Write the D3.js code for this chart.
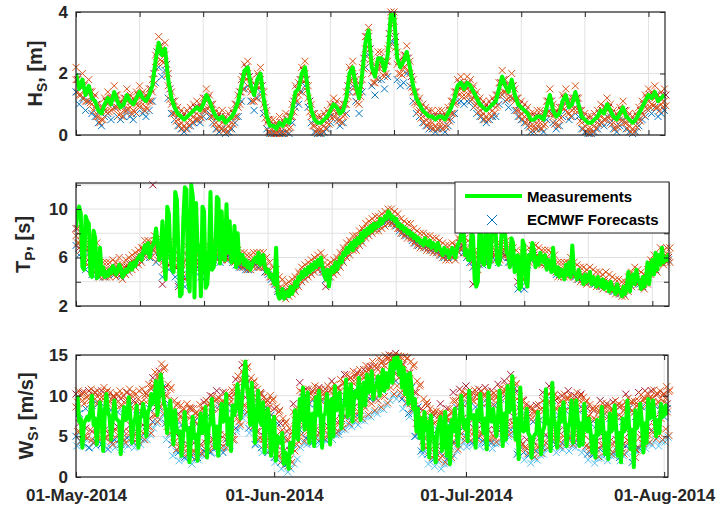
<!DOCTYPE html>
<html><head><meta charset="utf-8">
<script src="https://cdn.jsdelivr.net/npm/d3@7"></script>
<style>body{margin:0;background:#fff}svg{display:block}</style>
</head><body>
<svg id="c" width="724" height="509"></svg>
<script>
// ---------- DATA (from 01-May-2014) ----------
// Hs measured, every 12 h
const hsMeas = [
2.0,1.5,1.8,1.3,1.6,1.2,1.1,0.8,0.7,1.0,
1.2,1.0,1.4,1.1,0.9,1.0,1.3,1.1,1.0,1.2,
1.4,1.2,1.1,1.3,1.6,2.4,3.0,2.6,2.8,1.8,
1.2,0.9,0.7,0.6,0.5,0.6,0.7,0.8,0.9,0.8,
1.0,1.3,1.1,0.8,0.6,0.5,0.6,0.4,0.5,0.6,
0.8,1.1,1.6,2.1,2.2,1.6,1.3,1.8,2.0,1.2,
0.6,0.3,0.3,0.2,0.4,0.3,0.5,0.4,0.8,1.4,
1.5,2.0,2.2,1.4,0.8,0.5,0.4,0.4,0.5,0.6,
0.8,1.0,0.9,0.7,0.8,1.2,2.0,2.2,1.6,1.2,
2.0,3.0,3.4,2.2,1.9,2.5,2.5,2.1,2.6,3.9,
3.9,2.5,2.2,2.4,2.7,2.2,1.6,1.2,1.0,0.8,
0.7,0.6,0.6,0.5,0.6,0.6,0.5,0.7,0.9,1.2,
1.6,1.7,1.5,1.7,1.6,1.4,1.2,1.0,0.9,0.8,
0.9,1.0,1.1,1.5,1.9,1.6,1.4,1.8,1.3,1.0,
0.9,0.8,0.7,0.5,0.5,0.6,0.6,0.5,0.9,1.3,
0.8,0.6,0.7,1.1,1.3,0.9,1.0,1.4,1.0,0.6,
0.5,0.4,0.4,0.5,0.6,0.8,0.7,1.0,0.8,0.6,
0.5,0.7,0.9,0.6,0.5,0.4,0.5,0.7,0.9,1.1,
1.3,1.2,1.4,1.1,1.2,1.3];
// ECMWF Hs forecasts (A,B,C at 00/12 h; D,E at 06/18 h)
const hsFcA = [
1.4,1.0,1.2,0.8,1.1,0.7,0.6,0.4,0.3,0.6,
0.7,0.5,0.9,0.6,0.5,0.6,0.8,0.6,0.5,0.7,
0.9,0.7,0.6,0.8,1.1,1.7,2.2,1.9,2.1,1.2,
0.7,0.5,0.3,0.2,0.1,0.2,0.3,0.4,0.5,0.4,
0.6,0.8,0.6,0.4,0.2,0.1,0.2,0.05,0.1,0.2,
0.4,0.6,1.1,1.5,1.6,1.1,0.8,1.2,1.4,0.7,
0.2,0.05,0.05,0.05,0.05,0.05,0.1,0.05,0.4,0.9,
1.0,1.4,1.6,0.9,0.4,0.1,0.05,0.05,0.1,0.2,
0.4,0.6,0.5,0.3,0.4,0.7,1.4,1.6,1.1,0.7,
1.4,2.2,2.6,1.6,1.3,1.8,1.8,1.5,1.9,3.0,
3.0,1.8,1.6,1.7,2.0,1.6,1.1,0.7,0.6,0.4,
0.3,0.2,0.2,0.1,0.2,0.2,0.1,0.3,0.5,0.7,
1.1,1.1,1.0,1.1,1.1,0.9,0.7,0.6,0.5,0.4,
0.5,0.6,0.6,1.0,1.3,1.1,0.9,1.2,0.8,0.6,
0.5,0.4,0.3,0.1,0.1,0.2,0.2,0.1,0.5,0.8,
0.4,0.2,0.3,0.6,0.8,0.5,0.6,0.9,0.6,0.2,
0.1,0.05,0.05,0.1,0.2,0.4,0.3,0.6,0.4,0.2,
0.1,0.3,0.5,0.2,0.1,0.05,0.1,0.3,0.5,0.6,
0.8,0.7,0.9,0.6,0.7,0.8];
const hsFcB = [
1.8,1.3,1.6,1.1,1.4,1.0,0.9,0.6,0.5,0.8,
1.0,0.8,1.2,0.9,0.7,0.8,1.1,0.9,0.8,1.0,
1.2,1.0,0.9,1.1,1.4,2.2,2.8,2.4,2.6,1.6,
1.0,0.7,0.5,0.4,0.3,0.4,0.5,0.6,0.7,0.6,
0.8,1.1,0.9,0.6,0.4,0.3,0.4,0.2,0.3,0.4,
0.6,0.9,1.4,1.9,2.0,1.4,1.1,1.6,1.8,1.0,
0.4,0.1,0.1,0.05,0.2,0.1,0.3,0.2,0.6,1.2,
1.3,1.8,2.0,1.2,0.6,0.3,0.2,0.2,0.3,0.4,
0.6,0.8,0.7,0.5,0.6,1.0,1.8,2.0,1.4,1.0,
1.8,2.8,3.2,2.0,1.7,2.3,2.3,1.9,2.4,3.7,
3.7,2.3,2.0,2.2,2.5,2.0,1.4,1.0,0.8,0.6,
0.5,0.4,0.4,0.3,0.4,0.4,0.3,0.5,0.7,1.0,
1.4,1.5,1.3,1.5,1.4,1.2,1.0,0.8,0.7,0.6,
0.7,0.8,0.9,1.3,1.7,1.4,1.2,1.6,1.1,0.8,
0.7,0.6,0.5,0.3,0.3,0.4,0.4,0.3,0.7,1.1,
0.6,0.4,0.5,0.9,1.1,0.7,0.8,1.2,0.8,0.4,
0.3,0.2,0.2,0.3,0.4,0.6,0.5,0.8,0.6,0.4,
0.3,0.5,0.7,0.4,0.3,0.2,0.3,0.5,0.7,0.9,
1.1,1.0,1.2,0.9,1.0,1.1];
const hsFcC = [
2.2,1.7,2.0,1.5,1.8,1.4,1.3,1.0,0.9,1.2,
1.4,1.2,1.6,1.3,1.1,1.2,1.5,1.3,1.2,1.4,
1.6,1.4,1.3,1.5,1.8,2.6,3.2,2.8,3.0,2.0,
1.4,1.1,0.9,0.8,0.7,0.8,0.9,1.0,1.1,1.0,
1.2,1.5,1.3,1.0,0.8,0.7,0.8,0.6,0.7,0.8,
1.0,1.3,1.8,2.3,2.4,1.8,1.5,2.0,2.2,1.4,
0.8,0.5,0.5,0.4,0.6,0.5,0.7,0.6,1.0,1.6,
1.7,2.2,2.4,1.6,1.0,0.7,0.6,0.6,0.7,0.8,
1.0,1.2,1.1,0.9,1.0,1.4,2.2,2.4,1.8,1.4,
2.2,3.2,3.5,2.4,2.1,2.7,2.7,2.3,2.8,4.0,
4.0,2.7,2.4,2.6,2.9,2.4,1.8,1.4,1.2,1.0,
0.9,0.8,0.8,0.7,0.8,0.8,0.7,0.9,1.1,1.4,
1.8,1.9,1.7,1.9,1.8,1.6,1.4,1.2,1.1,1.0,
1.1,1.2,1.3,1.7,2.1,1.8,1.6,2.0,1.5,1.2,
1.1,1.0,0.9,0.7,0.7,0.8,0.8,0.7,1.1,1.5,
1.0,0.8,0.9,1.3,1.5,1.1,1.2,1.6,1.2,0.8,
0.7,0.6,0.6,0.7,0.8,1.0,0.9,1.2,1.0,0.8,
0.7,0.9,1.1,0.8,0.7,0.6,0.7,0.9,1.1,1.3,
1.5,1.4,1.6,1.3,1.4,1.5];
const hsFcD = [
1.4,1.3,1.2,1.1,1.05,0.8,0.6,0.4,0.5,0.75,
0.75,0.85,0.9,0.65,0.6,0.8,0.85,0.7,0.75,0.95,
0.95,0.8,0.85,1.1,1.65,2.35,2.45,2.35,1.95,1.15,
0.7,0.45,0.3,0.2,0.2,0.3,0.4,0.5,0.5,0.55,
0.8,0.85,0.6,0.35,0.2,0.2,0.15,0.1,0.2,0.35,
0.6,1.0,1.5,1.8,1.55,1.1,1.2,1.55,1.25,0.55,
0.1,0.05,0.05,0.05,0.05,0.05,0.1,0.25,0.75,1.1,
1.4,1.75,1.45,0.75,0.3,0.1,0.05,0.1,0.2,0.35,
0.55,0.6,0.45,0.4,0.65,1.25,1.75,1.55,1.05,1.25,
2.15,2.85,2.45,1.7,1.85,2.15,1.95,2.0,2.9,3.55,
2.85,2.0,1.95,2.2,2.1,1.55,1.05,0.75,0.55,0.4,
0.3,0.25,0.2,0.2,0.25,0.2,0.25,0.45,0.7,1.05,
1.3,1.25,1.25,1.3,1.15,0.95,0.75,0.6,0.5,0.5,
0.6,0.7,0.95,1.35,1.4,1.15,1.25,1.2,0.8,0.6,
0.5,0.4,0.25,0.15,0.2,0.25,0.2,0.35,0.75,0.7,
0.35,0.3,0.55,0.85,0.75,0.6,0.85,0.85,0.45,0.2,
0.1,0.05,0.1,0.2,0.35,0.4,0.5,0.55,0.35,0.2,
0.25,0.45,0.4,0.2,0.1,0.1,0.25,0.45,0.65,0.85,
0.9,0.95,0.9,0.8,0.9,0.95];
const hsFcE = [
1.8,1.7,1.6,1.5,1.4,1.2,1.0,0.8,0.9,1.1,
1.1,1.2,1.3,1.0,1.0,1.2,1.2,1.1,1.1,1.3,
1.3,1.2,1.2,1.5,2.0,2.7,2.9,2.7,2.3,1.5,
1.1,0.8,0.7,0.6,0.6,0.7,0.8,0.9,0.9,0.9,
1.2,1.2,1.0,0.7,0.6,0.6,0.5,0.5,0.6,0.7,
1.0,1.4,1.9,2.2,1.9,1.5,1.6,1.9,1.6,0.9,
0.5,0.3,0.3,0.3,0.4,0.4,0.5,0.6,1.1,1.5,
1.8,2.1,1.8,1.1,0.7,0.5,0.4,0.5,0.6,0.7,
0.9,1.0,0.8,0.8,1.0,1.6,2.1,1.9,1.4,1.6,
2.5,3.2,2.8,2.1,2.2,2.5,2.3,2.4,3.3,3.9,
3.2,2.4,2.3,2.6,2.5,1.9,1.4,1.1,0.9,0.8,
0.7,0.6,0.6,0.6,0.6,0.6,0.6,0.8,1.1,1.4,
1.7,1.6,1.6,1.7,1.5,1.3,1.1,1.0,0.9,0.9,
1.0,1.1,1.3,1.7,1.8,1.5,1.6,1.6,1.2,1.0,
0.9,0.8,0.6,0.5,0.6,0.6,0.6,0.7,1.1,1.1,
0.7,0.7,0.9,1.2,1.1,1.0,1.2,1.2,0.8,0.6,
0.5,0.4,0.5,0.6,0.7,0.8,0.9,0.9,0.7,0.6,
0.6,0.8,0.8,0.6,0.5,0.5,0.6,0.8,1.0,1.2,
1.3,1.3,1.3,1.2,1.3,1.3];
// Tp measured, every 6 h
const tpMeas = [
8.5,9.8,10.2,9.6,5.2,5.0,9.4,9.0,8.8,4.6,4.4,8.2,7.6,4.3,4.5,6.8,4.6,5.2,4.4,4.8,
4.5,5.0,4.7,5.3,5.0,4.6,4.9,5.4,5.1,4.4,4.6,5.0,4.8,5.2,5.5,5.0,5.6,5.3,5.8,6.0,
6.2,5.8,6.5,7.0,6.4,7.2,6.0,6.8,7.0,7.4,8.4,7.0,5.8,6.5,9.0,5.6,4.2,10.2,9.6,6.0,
5.0,4.8,11.4,10.8,6.4,2.8,3.0,9.0,11.8,11.6,4.2,3.2,12.0,11.0,2.7,10.5,6.5,7.0,2.8,10.2,
9.8,3.5,3.8,5.8,11.4,5.0,5.2,6.0,11.0,10.8,5.5,9.8,6.0,5.8,10.4,6.4,9.0,5.6,5.8,8.6,
5.2,8.0,5.5,6.2,6.2,5.4,5.8,5.2,5.6,5.0,5.4,5.8,6.0,5.6,6.4,5.4,5.8,6.2,5.2,4.8,
5.0,4.4,4.6,4.2,3.8,6.8,3.0,2.6,2.8,3.4,2.6,3.0,3.2,2.8,3.6,3.0,3.4,4.0,3.6,4.4,
4.2,4.8,4.4,5.0,4.6,5.2,4.8,5.4,5.0,5.6,5.2,5.8,5.4,6.0,5.2,4.6,4.2,5.0,3.6,4.8,
5.2,4.8,5.6,5.0,5.4,6.0,5.6,6.4,6.2,6.8,6.4,7.0,7.2,6.6,7.4,7.0,7.6,7.2,8.0,7.4,
8.2,7.8,8.4,8.0,8.6,8.2,8.8,8.4,8.8,8.6,9.2,8.8,9.0,9.4,9.2,9.8,9.6,9.2,9.4,9.0,
9.2,8.6,8.8,8.4,8.6,8.2,8.4,8.0,8.2,7.8,8.0,7.6,7.8,7.4,7.6,7.2,7.4,7.0,7.6,7.2,
7.0,7.4,6.8,7.2,7.0,6.6,7.2,6.8,6.6,6.2,6.8,6.4,6.6,6.0,6.4,6.8,6.4,6.0,6.8,7.2,
7.4,8.6,8.4,6.2,6.6,5.8,5.8,8.0,7.8,4.2,3.6,4.0,8.2,8.0,5.6,5.4,8.8,8.6,5.2,5.8,
8.4,8.8,8.6,5.6,5.4,6.0,8.6,7.8,8.0,6.4,6.2,5.2,7.6,7.2,4.8,5.6,6.2,3.4,3.6,7.4,
7.0,4.0,3.6,6.2,5.8,7.2,6.6,5.2,6.0,5.4,6.4,5.8,5.6,6.2,5.0,5.8,5.4,4.8,6.8,5.0,
4.6,5.2,4.4,5.0,4.8,4.2,5.4,4.6,5.6,4.4,7.0,4.8,4.6,4.2,5.0,4.4,4.4,3.8,4.6,4.0,
4.2,4.8,3.8,4.4,4.0,3.6,4.4,3.8,3.6,4.2,3.4,4.0,3.8,3.2,4.0,3.4,3.4,3.0,3.8,3.2,
3.2,2.8,3.6,3.0,3.6,4.8,3.2,4.2,4.6,3.8,5.0,4.2,4.0,3.4,4.4,3.6,4.2,5.6,3.8,5.2,
5.8,4.6,6.4,5.0,6.2,5.4,6.8,5.6,6.0,5.8,6.2,5.6];
// ECMWF Tp forecasts
const tpFcA = [
7.0,6.2,6.8,5.0,6.4,4.6,5.8,4.4,4.6,4.4,4.6,4.8,4.6,5.0,4.4,4.8,5.0,5.2,5.4,5.6,
5.8,6.2,6.4,6.0,6.6,5.6,6.0,4.4,6.4,5.0,5.6,4.4,3.8,4.2,3.6,4.6,5.6,4.8,5.2,4.4,
4.2,5.2,5.4,5.8,6.0,5.6,6.2,5.8,6.0,5.6,5.4,5.2,5.2,5.0,5.0,5.4,5.4,5.2,5.4,4.8,
4.6,4.2,3.8,3.2,3.0,2.8,3.0,3.2,3.4,3.8,4.2,4.4,4.6,4.8,5.0,5.2,5.4,4.8,4.2,4.4,
4.8,5.0,5.4,5.8,6.2,6.4,6.8,6.8,7.2,7.4,7.8,8.0,8.2,8.4,8.4,8.6,8.8,9.0,9.0,8.8,
8.6,8.2,8.0,7.8,7.8,7.4,7.2,7.0,7.0,6.8,6.8,6.6,6.6,6.4,6.2,6.0,6.0,6.2,6.0,6.6,
6.8,6.4,6.0,5.6,5.2,5.0,5.4,5.4,5.6,5.8,6.0,5.8,5.6,6.0,6.2,5.6,5.4,5.6,3.4,3.6,
3.4,5.4,5.8,6.0,5.8,5.8,5.6,5.6,5.2,5.0,4.6,4.6,4.6,4.6,4.8,4.6,4.4,4.2,4.2,4.0,
4.2,4.0,3.8,3.8,3.6,3.8,3.6,3.4,3.2,3.2,3.0,3.0,3.4,3.8,4.2,4.0,3.8,3.6,4.0,4.8,
5.2,5.0,5.8,5.6,5.8,5.8];
const tpFcB = [
7.8,7.2,7.6,6.0,7.2,5.4,6.6,5.0,5.0,5.0,5.0,5.2,5.0,5.4,4.8,5.2,5.4,5.6,5.8,6.0,
6.2,6.8,6.8,6.6,7.2,6.4,7.0,5.6,7.4,6.0,6.8,5.8,5.6,5.0,6.4,5.6,6.6,6.0,6.2,5.8,
5.6,6.4,6.8,6.6,7.0,6.4,6.8,6.4,6.6,6.2,6.0,5.8,5.8,5.6,5.6,5.8,5.8,5.8,5.8,5.4,
5.0,4.6,4.4,3.8,3.6,3.2,3.4,3.6,3.8,4.2,4.6,4.8,5.0,5.2,5.4,5.6,5.8,5.4,4.8,5.0,
5.2,5.4,5.8,6.2,6.6,6.8,7.2,7.2,7.6,7.8,8.2,8.4,8.6,8.8,8.8,9.0,9.2,9.4,9.4,9.2,
9.0,8.6,8.4,8.2,8.2,7.8,7.6,7.4,7.4,7.2,7.2,7.0,7.0,6.8,6.6,6.4,6.4,6.6,6.4,7.0,
7.4,7.0,6.8,6.2,6.0,5.6,6.2,6.2,6.6,6.4,6.8,6.6,6.4,6.8,6.8,6.2,6.2,6.0,5.4,5.8,
5.0,6.2,6.4,6.4,6.2,6.0,6.0,6.0,5.8,5.6,5.0,5.0,5.0,5.0,5.4,5.0,4.8,4.6,4.6,4.4,
4.6,4.4,4.2,4.2,4.0,4.2,4.0,3.8,3.6,3.6,3.4,3.4,3.8,4.2,4.6,4.4,4.2,4.0,4.4,5.2,
5.6,5.4,6.2,6.0,6.2,6.2];
const tpFcC = [
8.4,6.8,7.2,5.6,6.8,5.0,6.2,4.8,4.8,4.8,4.8,5.0,4.8,5.2,4.6,5.0,5.2,5.4,5.6,5.8,
6.0,6.6,7.0,6.8,12.0,7.0,6.4,3.8,7.0,5.4,6.2,5.2,3.6,5.4,4.2,6.0,6.2,5.4,5.8,5.2,
4.8,6.0,6.2,6.2,6.6,6.0,6.4,6.0,6.4,6.0,5.8,5.4,5.6,5.4,5.4,5.6,5.6,5.6,5.6,5.2,
4.8,4.4,4.0,3.4,3.2,3.0,3.2,3.4,3.6,4.0,4.4,4.6,4.8,5.0,5.2,5.4,5.6,5.0,3.6,4.8,
5.0,5.2,5.6,6.0,6.4,6.6,7.0,7.0,7.4,7.6,8.0,8.2,8.4,8.6,8.6,8.8,9.0,9.2,9.2,9.0,
8.8,8.4,8.2,8.0,8.0,7.6,7.4,7.2,7.2,7.0,7.0,6.8,6.8,6.6,6.4,6.2,6.2,6.4,6.2,6.8,
7.2,6.8,6.4,6.0,3.8,5.4,5.8,6.0,6.2,6.0,6.4,6.2,6.0,6.4,6.6,6.0,5.8,5.8,4.0,6.0,
4.2,5.8,6.0,6.2,6.0,5.8,5.8,5.8,5.4,5.2,4.8,4.8,4.8,4.8,5.0,4.8,4.6,4.4,4.4,4.2,
4.4,4.2,4.0,4.0,3.8,4.0,3.8,3.6,3.4,3.4,3.2,3.2,3.6,4.0,4.4,4.2,4.0,3.8,4.2,5.0,
5.4,5.2,6.0,5.8,6.0,6.0];
const tpFcD = [
7.2,6.6,7.0,5.4,6.6,4.8,6.0,4.4,4.4,4.4,4.4,4.6,4.4,4.8,4.2,4.6,4.8,5.0,5.2,5.4,
5.6,6.2,6.2,6.0,6.6,5.8,6.4,5.0,6.8,5.4,6.2,5.2,5.0,4.4,5.8,5.0,6.0,5.4,5.6,5.2,
5.0,5.8,6.2,6.0,6.4,5.8,6.2,5.8,6.0,5.6,5.4,5.2,5.2,5.0,5.0,5.2,5.2,5.2,5.2,4.8,
4.4,4.0,3.8,3.2,3.0,2.6,2.8,3.0,3.2,3.6,4.0,4.2,4.4,4.6,4.8,5.0,5.2,4.8,4.2,4.4,
4.6,4.8,5.2,5.6,6.0,6.2,6.6,6.6,7.0,7.2,7.6,7.8,8.0,8.2,8.2,8.4,8.6,8.8,8.8,8.6,
8.4,8.0,7.8,7.6,7.6,7.2,7.0,6.8,6.8,6.6,6.6,6.4,6.4,6.2,6.0,5.8,5.8,6.0,5.8,6.4,
6.8,6.4,6.2,5.6,5.4,5.0,5.6,5.6,6.0,5.8,6.2,6.0,5.8,6.2,6.2,5.6,5.6,5.4,4.8,5.2,
4.4,5.6,5.8,5.8,5.6,5.4,5.4,5.4,5.2,5.0,4.4,4.4,4.4,4.4,4.8,4.4,4.2,4.0,4.0,3.8,
4.0,3.8,3.6,3.6,3.4,3.6,3.4,3.2,3.0,3.0,2.8,2.8,3.2,3.6,4.0,3.8,3.6,3.4,3.8,4.6,
5.0,4.8,5.6,5.4,5.6,5.6];
const tpFcE = [
8.4,7.8,8.2,6.6,7.8,6.0,7.2,5.6,5.6,5.6,5.6,5.8,5.6,6.0,5.4,5.8,6.0,6.2,6.4,6.6,
6.8,7.4,7.4,7.2,7.8,7.0,7.6,6.2,8.0,6.6,7.4,6.4,6.2,5.6,7.0,6.2,7.2,6.6,6.8,6.4,
6.2,7.0,7.4,7.2,7.6,7.0,7.4,7.0,7.2,6.8,6.6,6.4,6.4,6.2,6.2,6.4,6.4,6.4,6.4,6.0,
5.6,5.2,5.0,4.4,4.2,3.8,4.0,4.2,4.4,4.8,5.2,5.4,5.6,5.8,6.0,6.2,6.4,6.0,5.4,5.6,
5.8,6.0,6.4,6.8,7.2,7.4,7.8,7.8,8.2,8.4,8.8,9.0,9.2,9.4,9.4,9.6,9.8,10.0,10.0,9.8,
9.6,9.2,9.0,8.8,8.8,8.4,8.2,8.0,8.0,7.8,7.8,7.6,7.6,7.4,7.2,7.0,7.0,7.2,7.0,7.6,
8.0,7.6,7.4,6.8,6.6,6.2,6.8,6.8,7.2,7.0,7.4,7.2,7.0,7.4,7.4,6.8,6.8,6.6,6.0,6.4,
5.6,6.8,7.0,7.0,6.8,6.6,6.6,6.6,6.4,6.2,5.6,5.6,5.6,5.6,6.0,5.6,5.4,5.2,5.2,5.0,
5.2,5.0,4.8,4.8,4.6,4.8,4.6,4.4,4.2,4.2,4.0,4.0,4.4,4.8,5.2,5.0,4.8,4.6,5.0,5.8,
6.2,6.0,6.8,6.6,6.8,6.8];
// Ws measured, every 6 h
const wsMeas = [
7.5,9.8,6.8,7.2,3.6,6.6,7.0,7.4,7.0,8.2,10.0,6.4,7.2,4.0,6.6,9.2,7.6,3.2,7.8,10.2,
8.0,7.4,4.6,7.0,9.4,7.2,7.0,6.8,2.8,6.4,8.6,7.0,7.2,9.8,7.4,4.2,6.8,7.0,8.8,3.6,
7.2,7.6,9.0,7.8,5.0,8.0,8.4,10.2,9.0,9.4,11.8,7.6,10.2,12.6,11.0,9.2,8.4,5.4,7.6,9.4,
6.2,4.0,8.2,5.8,5.4,5.6,2.6,5.0,8.0,5.8,6.0,1.8,5.0,7.4,4.8,5.2,2.0,5.8,7.8,5.4,
5.8,8.6,2.4,6.2,6.6,9.6,6.8,3.6,6.2,2.6,6.0,9.0,6.8,7.0,10.2,4.0,7.2,3.2,8.8,7.6,
8.4,11.4,9.0,7.2,10.0,12.4,14.2,11.0,9.6,6.4,11.6,8.0,4.2,7.4,10.6,7.0,6.4,9.2,3.0,6.6,
8.4,7.0,2.6,6.4,7.4,2.0,5.0,4.6,4.2,5.4,1.6,3.0,2.6,1.0,4.2,3.0,4.2,8.2,5.0,4.6,
9.6,7.0,11.0,5.8,7.4,10.4,4.2,7.6,7.8,3.8,9.8,7.6,10.6,7.4,3.6,7.6,7.8,10.2,8.0,4.0,
9.6,5.0,11.2,8.2,8.4,10.4,6.0,8.6,9.0,12.0,7.4,9.4,11.4,6.8,9.8,10.6,9.8,12.2,7.0,10.0,
11.6,8.8,12.6,10.4,10.6,13.0,9.6,11.0,11.2,12.4,10.0,11.8,13.2,10.6,12.8,11.0,12.4,14.0,11.6,14.6,
13.4,15.0,12.6,14.2,11.0,13.4,10.2,12.6,9.0,12.8,11.0,8.4,9.6,5.6,8.4,4.8,7.2,3.4,8.0,5.8,
6.8,2.4,7.6,5.2,4.8,1.8,5.6,6.4,7.4,3.2,4.2,8.0,2.6,6.2,1.6,7.0,5.6,8.4,5.8,3.8,
7.0,10.0,7.2,6.0,7.0,4.4,10.6,7.2,7.4,7.6,3.6,8.2,7.0,10.2,7.2,5.4,7.2,3.4,10.4,7.0,
6.8,8.4,6.6,5.0,7.4,10.6,7.6,3.8,7.8,4.6,11.2,8.0,8.4,12.4,8.6,4.6,7.2,2.2,11.0,6.0,
5.6,5.8,8.4,5.4,5.0,2.4,4.8,5.2,5.4,8.0,5.6,2.8,5.6,6.2,10.8,6.6,7.0,3.2,11.6,7.2,
6.4,3.6,6.2,8.4,6.8,9.2,6.6,3.8,6.4,6.6,9.4,4.2,7.0,9.4,7.0,3.8,6.6,4.0,9.0,6.2,
5.6,7.2,5.4,3.0,5.0,2.4,7.0,5.2,5.6,8.6,5.8,2.8,5.4,2.2,7.8,5.6,6.0,8.8,6.0,2.6,
5.4,1.8,7.2,5.6,6.2,9.4,6.4,3.4,5.8,1.2,8.2,6.0,6.6,9.0,6.8,3.0,6.6,4.2,9.6,7.2,
7.4,9.4,7.2,5.0,7.0,5.4,9.0,7.4,7.6,8.8,7.8,7.8];
// ECMWF Ws forecasts
const wsFcA = [
5.0,7.8,4.2,8.4,3.6,8.8,4.4,9.0,4.0,8.6,3.4,8.2,4.6,8.0,4.0,8.4,4.8,8.8,4.2,7.6,
4.8,7.4,5.6,8.4,6.8,10.4,8.6,11.0,6.6,9.0,4.0,6.2,3.0,6.4,2.4,6.0,2.6,6.8,2.4,6.0,
3.2,7.4,3.0,8.4,3.6,8.8,3.0,8.6,4.0,8.4,6.0,10.2,8.0,12.0,6.0,9.8,4.0,9.2,3.6,8.4,
3.0,7.6,2.4,6.6,1.8,4.8,1.6,4.0,3.4,7.4,5.8,9.8,4.8,9.0,4.2,9.0,4.4,9.4,4.6,9.2,
5.4,10.0,5.6,9.4,7.4,10.8,7.0,10.6,7.6,11.0,8.8,11.4,9.6,11.8,9.6,11.6,10.6,12.4,11.8,13.4,
11.8,13.6,9.6,12.0,7.8,11.0,5.0,8.6,3.2,6.6,2.8,7.0,2.2,5.8,3.0,7.2,2.2,6.6,4.2,8.6,
5.6,9.0,5.0,9.4,4.2,8.6,4.8,9.0,4.2,9.2,4.2,8.8,5.8,9.6,5.2,10.0,5.8,10.8,2.8,8.8,
3.0,7.6,2.8,6.8,3.2,7.0,3.6,8.6,4.6,9.4,4.0,7.6,4.2,8.2,4.8,8.8,4.2,8.2,4.6,8.4,
2.8,6.6,2.8,6.4,3.4,7.6,2.8,7.2,3.0,7.4,2.4,6.8,3.8,8.4,1.8,7.4,3.6,8.6,4.6,8.8,
5.6,8.8,6.6,8.4,7.4,8.4];
const wsFcB = [
8.6,5.6,9.4,5.0,9.6,4.6,9.6,5.2,9.8,4.8,9.0,4.4,8.8,5.2,8.8,4.6,9.6,5.4,8.4,4.6,
8.2,5.4,9.2,6.2,11.2,7.6,12.2,9.0,10.0,6.8,7.0,4.4,7.0,3.6,6.6,3.0,7.4,3.2,6.6,3.0,
8.2,3.8,9.0,3.6,9.6,4.2,9.4,3.6,9.0,4.6,11.0,6.8,13.0,8.8,10.8,6.4,10.0,4.6,9.2,4.0,
8.4,3.4,7.4,2.8,5.6,2.2,4.6,2.2,8.0,4.0,10.6,6.4,9.8,5.4,9.6,4.8,10.0,5.0,9.8,5.2,
10.8,6.0,10.0,6.2,11.6,8.0,11.2,7.6,11.8,8.2,12.2,9.4,12.6,10.2,12.4,10.2,13.2,11.2,14.2,12.4,
14.4,12.2,12.8,10.2,11.8,8.4,9.4,5.6,7.4,3.8,7.8,3.4,6.6,2.8,8.0,3.6,7.4,2.8,9.4,4.8,
9.8,6.2,10.2,5.6,9.4,4.8,9.8,5.4,10.0,4.8,9.6,4.8,10.4,6.4,10.8,5.8,11.6,6.4,9.6,3.4,
8.4,3.6,7.6,3.4,7.8,3.8,9.4,4.2,10.2,5.2,8.4,4.6,9.0,4.8,9.6,5.4,9.0,4.8,9.2,5.2,
7.4,3.4,7.2,3.4,8.4,4.0,8.0,3.4,8.2,3.6,7.6,3.0,9.2,4.4,8.2,2.4,9.4,4.2,9.6,5.2,
9.6,6.2,9.2,7.2,9.2,8.0];
const wsFcC = [
10.2,6.6,10.4,6.0,10.6,5.6,10.4,6.2,10.6,5.8,10.0,5.4,9.8,6.2,9.6,5.6,10.4,6.4,9.4,5.6,
9.0,6.4,10.2,7.2,12.2,8.6,13.0,10.0,11.0,7.8,8.0,5.4,7.8,4.6,7.6,4.0,8.4,4.2,7.6,4.0,
9.2,4.8,10.0,4.6,10.6,5.2,10.4,4.6,10.0,5.6,12.0,7.8,13.8,9.8,11.8,7.4,11.0,5.6,10.2,5.0,
9.4,4.4,8.4,3.8,6.6,3.2,5.6,3.2,9.0,5.0,11.6,7.4,10.8,6.4,10.6,5.8,11.0,6.0,10.8,6.2,
11.8,7.0,11.0,7.2,12.6,9.0,12.2,8.6,12.8,9.2,13.2,10.4,13.6,11.2,13.4,11.2,14.2,12.2,15.0,13.2,
15.2,13.0,13.8,11.2,12.8,9.4,10.4,6.6,8.4,4.8,8.8,4.4,7.6,3.8,9.0,4.6,8.4,3.8,10.4,5.8,
10.8,7.2,11.2,6.6,10.4,5.8,10.8,6.4,11.0,5.8,10.6,5.8,11.4,7.4,11.8,6.8,12.6,7.4,10.6,4.4,
9.4,4.6,8.6,4.4,8.8,4.8,10.4,5.2,11.2,6.2,9.4,5.6,10.0,5.8,10.6,6.4,10.0,5.8,10.2,6.2,
8.4,4.4,8.2,4.4,9.4,5.0,9.0,4.4,9.2,4.6,8.6,4.0,10.2,5.4,9.2,3.4,10.4,5.2,10.6,6.2,
10.6,7.2,10.2,8.2,10.2,9.0];
const wsFcD = [
5.6,4.4,5.0,4.8,5.8,4.2,5.2,4.6,6.0,4.8,5.4,4.0,5.8,4.6,4.8,4.2,5.6,4.8,5.2,4.4,
5.6,4.6,6.2,5.4,7.6,6.8,8.6,7.8,6.2,5.4,4.2,3.4,3.6,2.8,3.8,3.0,3.2,2.4,3.6,2.8,
4.2,3.4,4.6,3.8,4.4,3.6,5.2,4.4,5.4,4.6,7.2,6.4,8.8,8.0,7.0,6.2,5.6,4.8,4.6,3.8,
4.8,4.0,3.4,2.6,2.0,1.6,1.4,1.8,3.2,4.4,5.2,4.4,5.6,4.8,6.0,5.2,5.6,4.8,6.0,5.2,
6.2,5.4,6.8,6.0,7.4,6.6,7.8,7.0,8.0,7.2,8.5,7.7,9.0,8.2,9.4,8.6,9.9,9.1,11.0,10.2,
11.2,10.4,10.0,9.2,9.0,8.2,6.6,5.8,4.4,3.6,3.2,2.4,2.9,2.1,2.6,1.8,3.2,2.4,4.2,3.4,
5.3,4.5,5.3,4.5,5.5,4.7,5.4,4.6,5.3,4.5,5.1,4.3,5.7,4.9,6.0,5.2,6.7,5.9,4.7,3.9,
3.7,2.9,3.3,2.5,3.7,2.9,4.4,3.6,5.4,4.6,4.6,3.8,5.0,4.2,4.8,4.0,5.2,4.4,4.6,3.8,
3.7,2.9,3.3,2.5,3.9,3.1,3.6,2.8,4.2,3.4,3.6,2.8,4.5,3.7,4.1,3.3,4.9,4.1,5.1,4.3,
5.5,4.7,5.4,4.6,5.9,5.1];
const wsFcE = [
9.2,10.0,9.0,9.8,9.4,10.2,9.0,9.6,9.6,10.4,9.2,9.8,9.0,10.0,8.8,9.4,9.4,10.0,9.0,9.6,
9.2,10.0,10.0,10.8,11.5,12.3,12.5,13.3,10.0,10.8,8.0,8.8,7.4,8.2,7.6,8.4,7.0,7.8,7.5,8.3,
8.0,8.8,8.5,9.3,8.3,9.1,9.0,9.8,9.3,10.1,11.0,11.8,12.6,13.4,10.8,11.6,9.4,10.2,8.4,9.2,
8.6,9.4,7.2,8.0,5.8,6.6,4.6,5.4,7.0,7.8,9.0,9.8,9.4,10.2,9.8,10.6,9.4,10.2,9.8,10.6,
10.0,10.8,10.6,11.4,11.2,12.0,11.6,12.4,11.8,12.6,12.3,13.1,12.8,13.6,13.2,14.0,13.7,14.5,14.4,14.9,
14.6,14.8,13.8,14.6,12.8,13.6,10.4,11.2,8.2,9.0,7.0,7.8,6.7,7.5,6.4,7.2,7.0,7.8,8.0,8.8,
9.1,9.9,9.1,9.9,9.3,10.1,9.2,10.0,9.1,9.9,8.9,9.7,9.5,10.3,9.8,10.6,10.5,11.3,8.5,9.3,
7.5,8.3,7.1,7.9,7.5,8.3,8.2,9.0,9.2,10.0,8.4,9.2,8.8,9.6,8.6,9.4,9.0,9.8,8.4,9.2,
7.5,8.3,7.1,7.9,7.7,8.5,7.4,8.2,8.0,8.8,7.4,8.2,8.3,9.1,7.9,8.7,8.7,9.5,8.9,9.7,
9.3,10.1,9.2,10.0,9.7,10.5];
const wsFcF = [
3.8,4.4,4.0,4.6,3.6,4.2,3.8,4.4,4.2,4.8,3.8,4.2,3.6,4.4,3.4,4.0,3.8,4.6,3.6,4.2,
4.0,4.6,4.6,5.2,6.0,6.6,7.0,7.6,4.6,5.2,2.6,3.2,2.0,2.6,2.2,2.8,1.6,2.2,2.1,2.7,
2.6,3.2,3.1,3.7,2.9,3.5,3.6,4.2,3.9,4.5,5.6,6.2,7.2,7.8,5.4,6.0,4.0,4.6,3.0,3.6,
3.2,3.8,1.8,2.4,1.0,1.4,0.6,1.0,1.6,2.2,3.6,4.2,4.0,4.6,4.4,5.0,4.0,4.6,4.4,5.0,
4.6,5.2,5.2,5.8,5.8,6.4,6.2,6.8,6.4,7.0,6.9,7.5,7.4,8.0,7.8,8.4,8.3,8.9,9.4,10.0,
9.6,10.2,8.4,9.0,7.4,8.0,5.0,5.6,2.8,3.4,1.6,2.2,1.3,1.9,1.0,1.6,1.6,2.2,2.6,3.2,
3.7,4.3,3.7,4.3,3.9,4.5,3.8,4.4,3.7,4.3,3.5,4.1,4.1,4.7,4.4,5.0,5.1,5.7,3.1,3.7,
2.1,2.7,1.7,2.3,2.1,2.7,2.8,3.4,3.8,4.4,3.0,3.6,3.4,4.0,3.2,3.8,3.6,4.2,3.0,3.6,
2.1,2.7,1.7,2.3,2.3,2.9,2.0,2.6,2.6,3.2,2.0,2.6,2.9,3.5,2.5,3.1,3.3,3.9,3.5,4.1,
3.9,4.5,3.8,4.4,4.3,4.9];
const wsFcG = [
10.6,10.2,10.4,10.0,10.8,10.4,10.6,10.2,11.0,10.6,10.4,10.0,10.2,10.6,10.0,10.4,10.8,10.4,10.2,10.6,
10.8,10.4,11.4,11.0,12.9,12.5,13.9,13.5,11.4,11.0,9.4,9.0,8.8,8.4,9.0,8.6,8.4,8.0,8.9,8.5,
9.4,9.0,9.9,9.5,9.7,9.3,10.4,10.0,10.7,10.3,12.4,12.0,14.0,13.6,12.2,11.8,10.8,10.4,9.8,9.4,
10.0,9.6,8.6,8.2,7.2,6.8,6.0,5.6,8.4,8.0,10.4,10.0,10.8,10.4,11.2,10.8,10.8,10.4,11.2,10.8,
11.4,11.0,12.0,11.6,12.6,12.2,13.0,12.6,13.2,12.8,13.7,13.3,14.2,13.8,14.6,14.2,14.9,14.6,14.9,14.8,
14.9,14.7,14.8,14.6,14.2,13.8,11.8,11.4,9.6,9.2,8.4,8.0,8.1,7.7,7.8,7.4,8.4,8.0,9.4,9.0,
10.5,10.1,10.5,10.1,10.7,10.3,10.6,10.2,10.5,10.1,10.3,9.9,10.9,10.5,11.2,10.8,11.9,11.5,9.9,9.5,
8.9,8.5,8.5,8.1,8.9,8.5,9.6,9.2,10.6,10.2,9.8,9.4,10.2,9.8,10.0,9.6,10.4,10.0,9.8,9.4,
8.9,8.5,8.5,8.1,9.1,8.7,8.8,8.4,9.4,9.0,8.8,8.4,9.7,9.3,9.3,8.9,10.1,9.7,10.3,9.9,
10.7,10.3,10.6,10.2,11.1,10.7];

const yTicksHs = [0, 2, 4];
const yTicksTp = [2, 4, 6, 8, 10, 12];
const yLabelsTp = [2, 6, 10];
const yTicksWs = [0, 5, 10, 15];
const monthTicks = ["2014-05-01", "2014-06-01", "2014-07-01", "2014-08-01"];
const tenDayTicks = ["2014-05-01","2014-05-11","2014-05-21","2014-05-31","2014-06-10",
                     "2014-06-20","2014-06-30","2014-07-10","2014-07-20","2014-07-30"];
const legendLabels = ["Measurements", "ECMWF Forecasts"];

// ---------- DRAWING ----------
const FONT = "'Liberation Sans', Arial, Helvetica, sans-serif";
const AX = "#262626";
const GREEN = "#00ff00";
const C_BLUE = "#0072bd", C_ORANGE = "#d95319", C_RED = "#a2142f", C_LBLUE = "#4dbeee";
const DAY = 864e5;
const t0 = Date.UTC(2014, 4, 1);
const parse = s => new Date(s + "T00:00:00Z");
const xDomain = [new Date(t0), new Date(t0 + 92.6 * DAY)];
const svg = d3.select("#c");
const LEFT = 76;

const panels = [
  {top: 12, bottom: 135, right: 665, ydom: [0, 4], yTicks: yTicksHs, yLabels: yTicksHs,
   xTicks: tenDayTicks, showX: false, meas: hsMeas, mStep: 0.5,
   fc: [[hsFcA, C_BLUE, 0], [hsFcE, C_RED, 0.25], [hsFcD, C_ORANGE, 0.25], [hsFcC, C_ORANGE, 0], [hsFcB, C_ORANGE, 0]],
   lab: ["H", "S", ", [m]"], labX: 42},
  {top: 183, bottom: 306, right: 669, ydom: [2, 12.15], yTicks: yTicksTp, yLabels: yLabelsTp,
   xTicks: tenDayTicks, showX: false, meas: tpMeas, mStep: 0.25,
   fc: [[tpFcA, C_BLUE, 0], [tpFcC, C_RED, 0], [tpFcD, C_ORANGE, 0.25], [tpFcE, C_ORANGE, 0.25], [tpFcB, C_ORANGE, 0]],
   lab: ["T", "P", ", [s]"], labX: 30},
  {top: 355, bottom: 477, right: 668, ydom: [0, 15], yTicks: yTicksWs, yLabels: yTicksWs,
   xTicks: monthTicks, showX: true, meas: wsMeas, mStep: 0.25,
   fc: [[wsFcF, C_LBLUE, 0.125], [wsFcA, C_BLUE, 0], [wsFcC, C_RED, 0], [wsFcD, C_ORANGE, 0.25],
        [wsFcG, C_ORANGE, 0.375], [wsFcE, C_ORANGE, 0.25], [wsFcB, C_ORANGE, 0]],
   lab: ["W", "S", ", [m/s]"], labX: 33}
];
const FSTEP = 0.5;
const fmt = d3.utcFormat("%d-%b-%Y");

panels.forEach((p, i) => {
  const x = d3.scaleUtc().domain(xDomain).range([LEFT, p.right]);
  const y = d3.scaleLinear().domain(p.ydom).range([p.bottom, p.top]);
  const xt = p.xTicks.map(parse);
  const g = svg.append("g");

  g.append("g").selectAll("line").data(xt).join("line")
    .attr("x1", d => x(d)).attr("x2", d => x(d))
    .attr("y1", p.top).attr("y2", p.bottom)
    .attr("stroke", "#e2e2e2").attr("stroke-width", 1);
  g.append("g").selectAll("line").data(p.yTicks).join("line")
    .attr("x1", LEFT).attr("x2", p.right)
    .attr("y1", d => y(d)).attr("y2", d => y(d))
    .attr("stroke", "#e2e2e2").attr("stroke-width", 1);

  const cid = "clip" + i;
  svg.append("clipPath").attr("id", cid).append("rect")
    .attr("x", LEFT).attr("y", p.top).attr("width", p.right - LEFT).attr("height", p.bottom - p.top);

  const R = 3.5;
  p.fc.forEach(([arr, col, off]) => {
    const d = arr.map((v, k) => {
      const px = x(new Date(t0 + (off + k * FSTEP) * DAY)), py = y(v);
      return `M${px-R},${py-R}L${px+R},${py+R}M${px-R},${py+R}L${px+R},${py-R}`;
    }).join("");
    g.append("path").attr("d", d)
      .attr("fill", "none").attr("stroke", col).attr("stroke-width", 1);
  });

  const line = d3.line().x((v, k) => x(new Date(t0 + k * p.mStep * DAY))).y(v => y(v));
  g.append("path").attr("d", line(p.meas))
    .attr("clip-path", `url(#${cid})`)
    .attr("fill", "none").attr("stroke", GREEN).attr("stroke-width", 4)
    .attr("stroke-linejoin", "round");

  const styleAxis = sel => {
    sel.selectAll(".domain").remove();
    sel.selectAll(".tick line").attr("stroke", AX).attr("stroke-width", 1);
    sel.selectAll("text").attr("font-family", FONT).attr("font-weight", "bold")
      .attr("font-size", 17).attr("fill", AX);
  };
  svg.append("g").attr("transform", `translate(0,${p.bottom})`)
    .call(d3.axisBottom(x).tickValues(xt).tickSize(-5).tickPadding(12)
      .tickFormat(d => p.showX ? fmt(d) : ""))
    .call(styleAxis);
  svg.append("g").attr("transform", `translate(0,${p.top})`)
    .call(d3.axisTop(x).tickValues(xt).tickSize(-5).tickFormat(""))
    .call(styleAxis);
  svg.append("g").attr("transform", `translate(${LEFT},0)`)
    .call(d3.axisLeft(y).tickValues(p.yTicks).tickSize(-5).tickPadding(8)
      .tickFormat(d => p.yLabels.includes(d) ? d : ""))
    .call(styleAxis);
  svg.append("g").attr("transform", `translate(${p.right},0)`)
    .call(d3.axisRight(y).tickValues(p.yTicks).tickSize(-5).tickFormat(""))
    .call(styleAxis);

  svg.append("rect").attr("x", LEFT).attr("y", p.top)
    .attr("width", p.right - LEFT).attr("height", p.bottom - p.top)
    .attr("fill", "none").attr("stroke", AX).attr("stroke-width", 1.2);

  const cy = (p.top + p.bottom) / 2;
  const t = svg.append("text")
    .attr("transform", `translate(${p.labX},${cy}) rotate(-90)`)
    .attr("text-anchor", "middle").attr("font-family", FONT)
    .attr("font-weight", "bold").attr("font-size", 20).attr("fill", AX);
  t.append("tspan").text(p.lab[0]);
  t.append("tspan").attr("font-size", 14).attr("dy", 5).text(p.lab[1]);
  t.append("tspan").attr("dy", -5).text(p.lab[2]);
});

const lg = svg.append("g");
lg.append("rect").attr("x", 455).attr("y", 182).attr("width", 214).attr("height", 51)
  .attr("fill", "#fff").attr("stroke", AX).attr("stroke-width", 1);
lg.append("line").attr("x1", 465).attr("x2", 522).attr("y1", 196).attr("y2", 196)
  .attr("stroke", GREEN).attr("stroke-width", 4);
lg.append("path").attr("d", "M487,215L497,225M487,225L497,215")
  .attr("stroke", C_BLUE).attr("stroke-width", 1).attr("fill", "none");
lg.selectAll("text").data(legendLabels).join("text")
  .attr("x", 527).attr("y", (d, k) => 202 + k * 23)
  .attr("font-family", FONT).attr("font-weight", "bold").attr("font-size", 15)
  .attr("fill", "#000").text(d => d);
</script>
</body></html>
